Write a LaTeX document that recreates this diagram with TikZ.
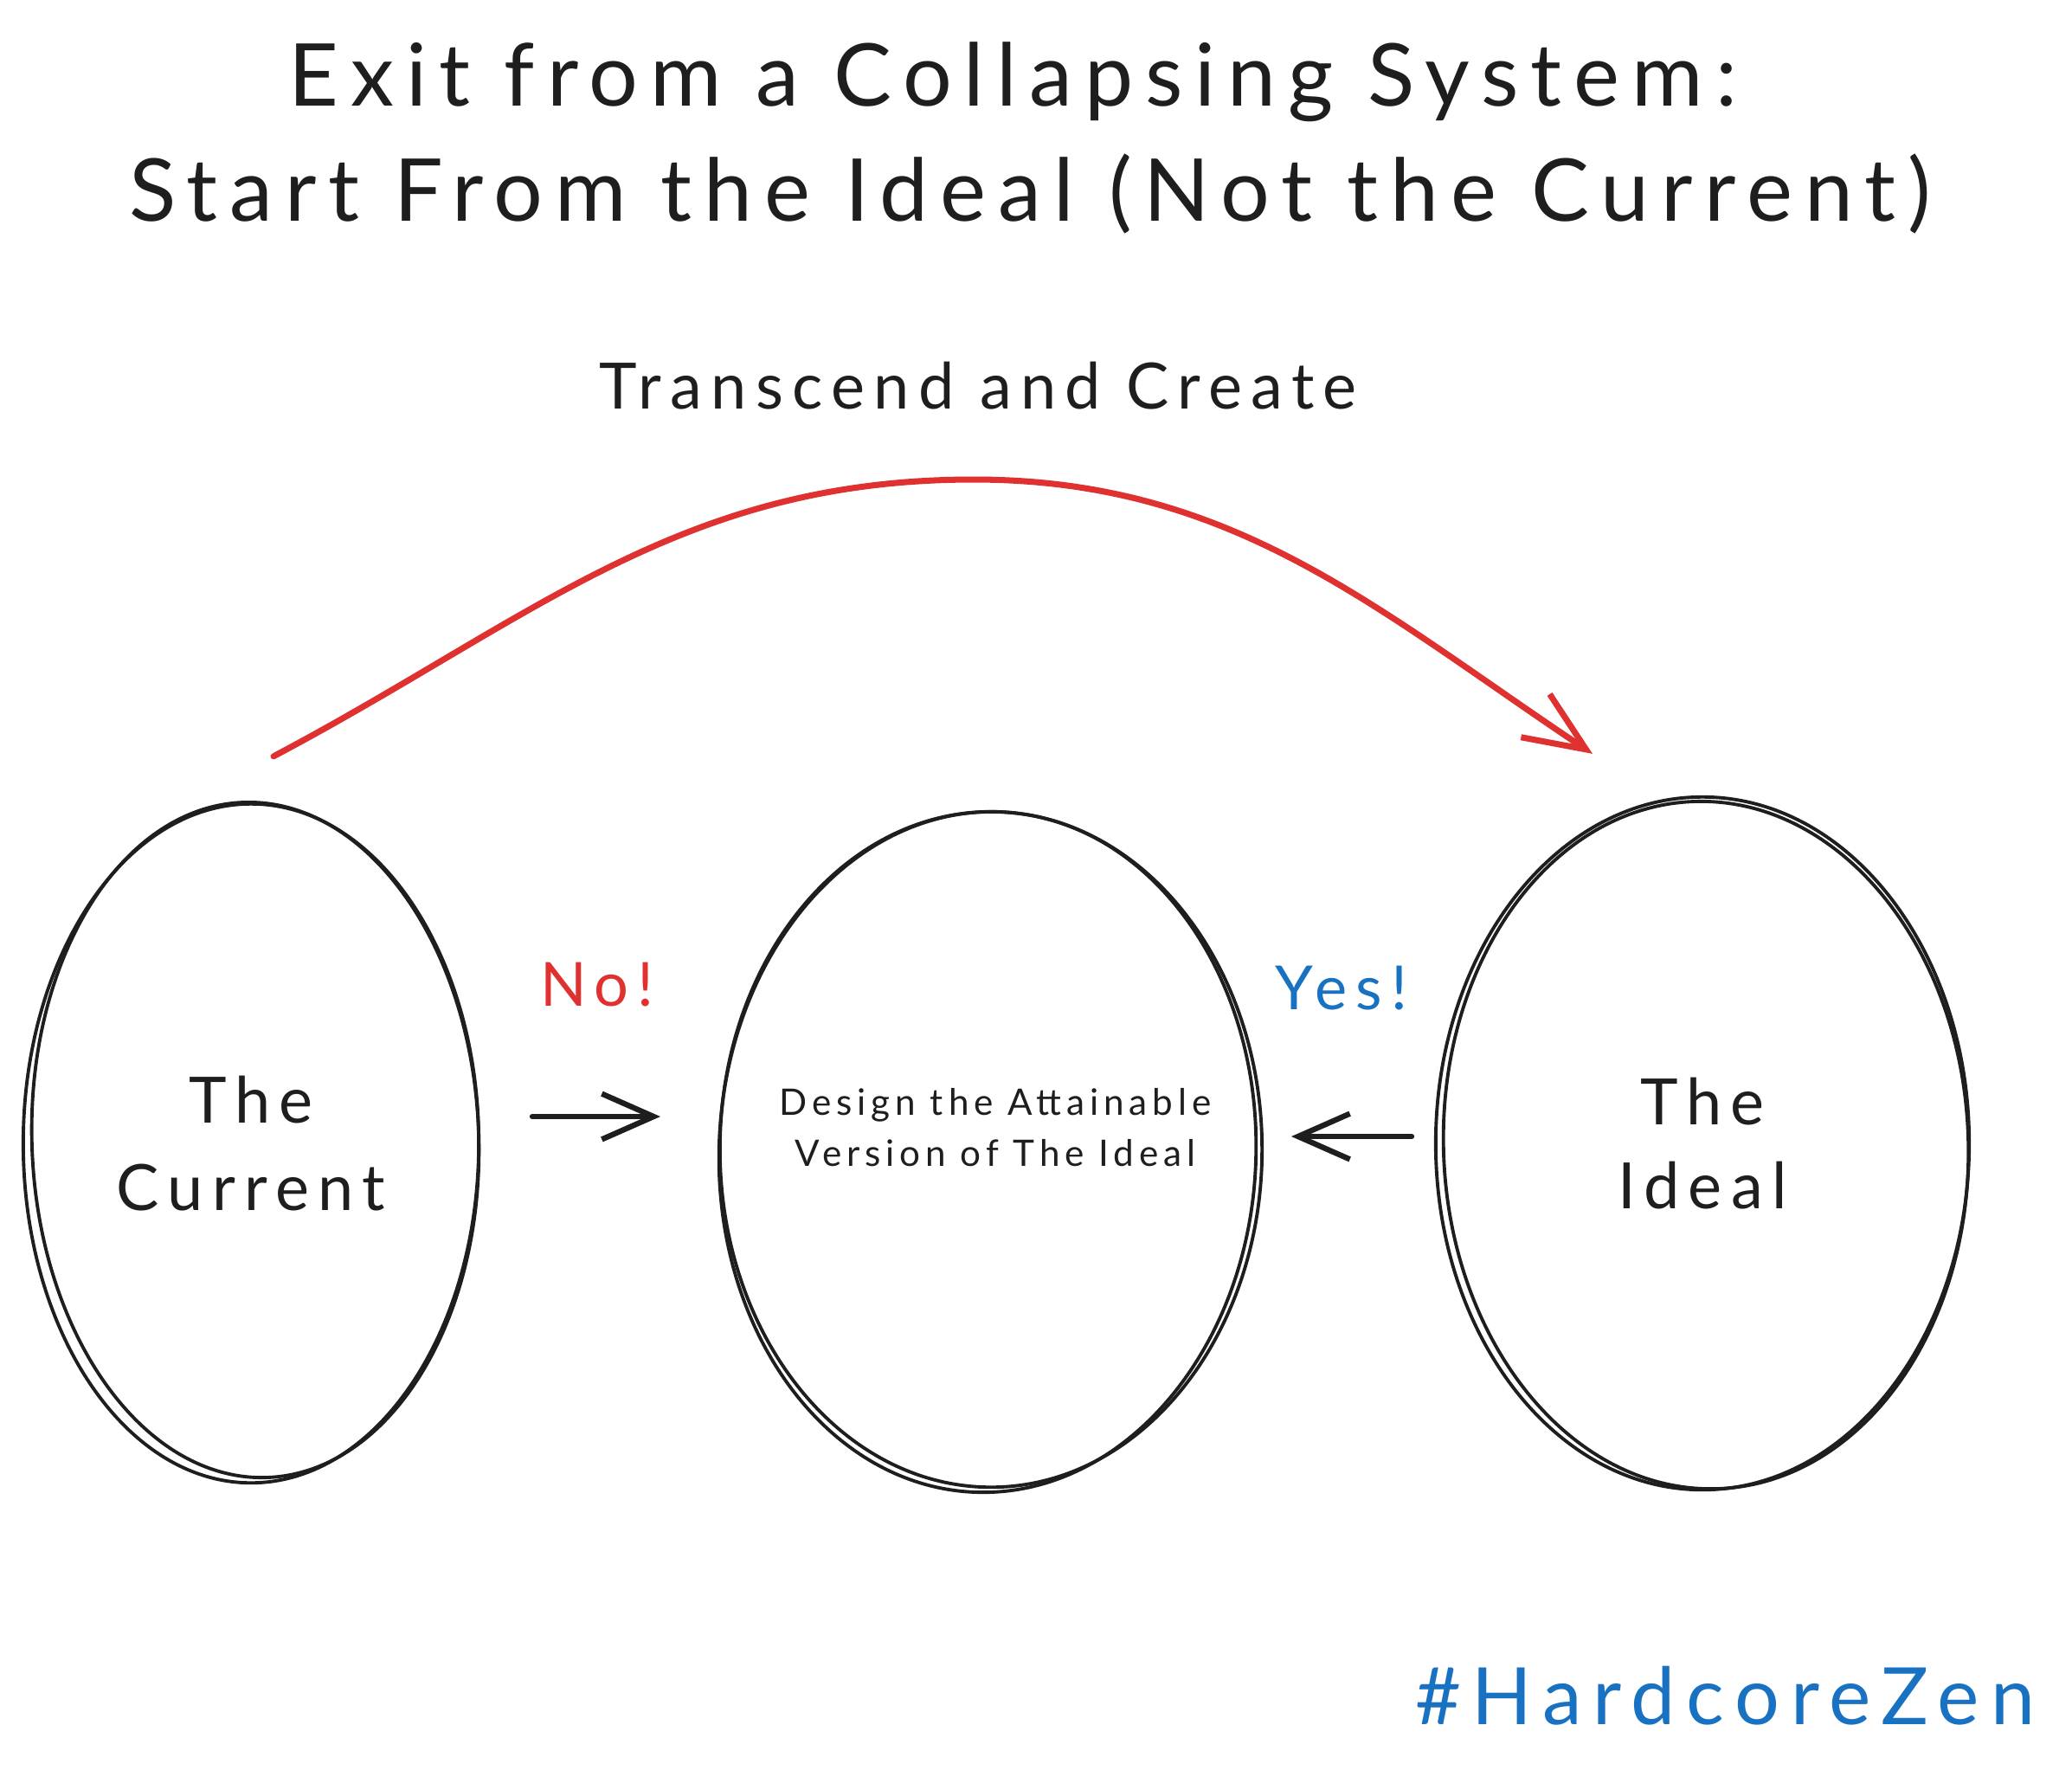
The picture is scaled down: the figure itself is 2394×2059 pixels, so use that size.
\documentclass[tikz,border=0pt]{standalone}
\usepackage{fontspec}
\setmainfont[LetterSpace=14]{Lato}
\usetikzlibrary{shapes.geometric,arrows.meta}
\definecolor{ink}{HTML}{1E1E1E}
\definecolor{sketchred}{HTML}{E03131}
\definecolor{sketchblue}{HTML}{1971C2}

\begin{document}
\begin{tikzpicture}[x=0.01cm, y=-0.01cm,
	bubble/.style={ellipse, draw=ink, line width=1.1pt, text=ink, align=center, inner sep=0pt},
	rough/.style={draw=ink, line width=1.1pt},
	flow/.style={draw=ink, line width=1.8pt, line cap=round, -{Straight Barb[length=17pt, width=15pt]}},
	]
	\useasboundingbox (0,0) rectangle (2394,2059);
	% title
	\node[text=ink, font={\fontsize{28.5}{34}\selectfont}] (title1) at (1170,95) {Exit from a Collapsing System:};
	\node[text=ink, font={\fontsize{28.5}{34}\selectfont}] (title2) at (1190,224) {Start From the Ideal (Not the Current)};
	\node[text=ink, font={\fontsize{21}{26}\selectfont}] (leap) at (1130,446) {Transcend and Create};
	% the three stages
	\node[bubble, minimum width=5.26cm, minimum height=7.84cm, font={\fontsize{21}{28.7}\selectfont}] (cur) at (290,1321) {The\\Current};
	\node[bubble, minimum width=6.26cm, minimum height=7.80cm] (mid) at (1145,1328) {};
	\node[text=ink, align=center, font={\fontsize{12}{16.8}\selectfont}] (midText) at (1150,1303) {Design the Attainable\\Version of The Ideal};
	\node[bubble, minimum width=6.16cm, minimum height=8.00cm, font={\fontsize{21}{27.6}\selectfont}] (ideal) at (1967,1321) {The\\Ideal};
	\draw[rough] (cur.center) ++(5,-4) ellipse [x radius=2.58cm, y radius=3.90cm, rotate=2];
	\draw[rough] (mid.center) ++(-4,3) ellipse [x radius=3.10cm, y radius=3.93cm, rotate=-2];
	\draw[rough] (ideal.center) ++(4,2) ellipse [x radius=3.03cm, y radius=3.97cm, rotate=2];
	% side arrows
	\coordinate (noTail) at (615,1290);
	\coordinate (noHead) at (763,1290);
	\coordinate (yesTail) at (1631,1313);
	\coordinate (yesHead) at (1492,1313);
	\draw[flow] (noTail) -- (noHead);
	\draw[flow] (yesTail) -- (yesHead);
	\node[text=sketchred, font={\fontsize{20}{24}\selectfont}] (no) at (690,1138) {No!};
	\node[text=sketchblue, font={\fontsize{20}{24}\selectfont}] (yes) at (1550,1142) {Yes!};
	% the leap over
	\coordinate (apex) at (1125,554);
	\draw[sketchred, line width=2pt, line cap=round, -{Straight Barb[length=20pt, width=17pt]}]
		([shift={(26,-53)}]cur.north) .. controls (616,715) and (785,554) .. (apex)
		.. controls (1425,554) and (1591,705) .. ([shift={(-127,-48)}]ideal.north);
	\node[text=sketchblue, font={\fontsize{26}{30}\selectfont}] (tag) at (1993,1959) {\#HardcoreZen};
\end{tikzpicture}
\end{document}
